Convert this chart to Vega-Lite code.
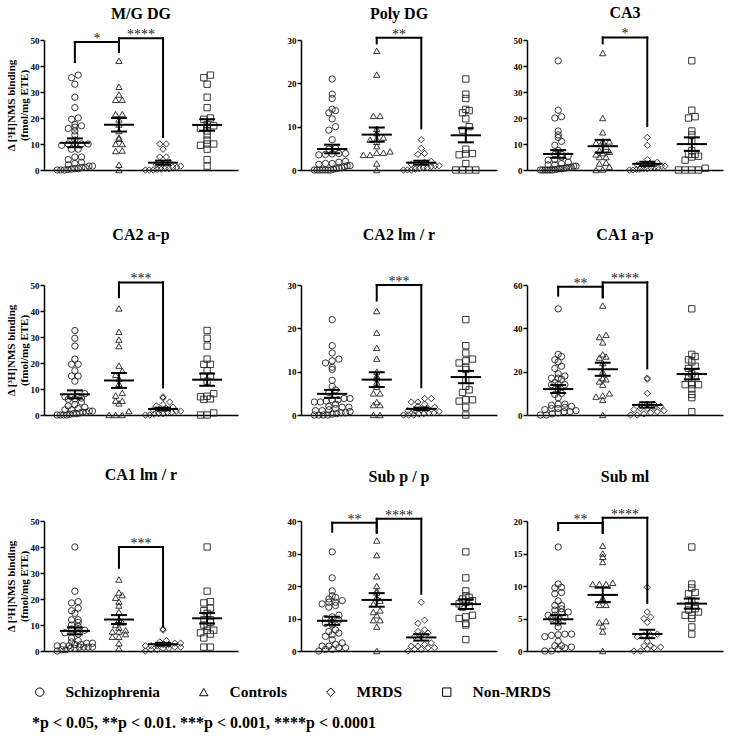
{
"$schema": "https://vega.github.io/schema/vega-lite/v6.json",
"background": "white",
"padding": 5,
"datasets": {
"pts": [
{"r":1,"g":"N","s":"S","v":36.5},{"r":1,"g":"N","s":"S","v":35.5},{"r":1,"g":"N","s":"S","v":33},{"r":1,"g":"N","s":"S","v":28},{"r":1,"g":"N","s":"S","v":24},{"r":1,"g":"N","s":"S","v":20},{"r":1,"g":"N","s":"S","v":19.5},{"r":1,"g":"N","s":"S","v":17.5},{"r":1,"g":"N","s":"S","v":17},{"r":1,"g":"N","s":"S","v":16.5},{"r":1,"g":"N","s":"S","v":16},{"r":1,"g":"N","s":"S","v":15},{"r":1,"g":"N","s":"S","v":13.5},{"r":1,"g":"N","s":"S","v":11.5},{"r":1,"g":"N","s":"S","v":10},{"r":1,"g":"N","s":"S","v":10},{"r":1,"g":"N","s":"S","v":9.5},{"r":1,"g":"N","s":"S","v":8},{"r":1,"g":"N","s":"S","v":4},{"r":1,"g":"N","s":"S","v":1.5},
{"r":1,"g":"M","s":"S","v":10},{"r":1,"g":"M","s":"S","v":10},{"r":1,"g":"M","s":"S","v":8},{"r":1,"g":"M","s":"S","v":5},{"r":1,"g":"M","s":"S","v":5},{"r":1,"g":"M","s":"S","v":3},{"r":1,"g":"M","s":"S","v":2.5},{"r":1,"g":"M","s":"S","v":2},{"r":1,"g":"M","s":"S","v":1.5},{"r":1,"g":"M","s":"S","v":1},{"r":1,"g":"M","s":"S","v":1},{"r":1,"g":"M","s":"S","v":0.5},{"r":1,"g":"M","s":"S","v":0.5},{"r":1,"g":"M","s":"S","v":0.3},{"r":1,"g":"M","s":"S","v":0.2},{"r":1,"g":"M","s":"S","v":0},{"r":1,"g":"M","s":"S","v":0},{"r":1,"g":"M","s":"S","v":0},
{"r":1,"g":"C","v":42},{"r":1,"g":"C","v":32},{"r":1,"g":"C","v":29},{"r":1,"g":"C","v":27},{"r":1,"g":"C","v":27},{"r":1,"g":"C","v":21.5},{"r":1,"g":"C","v":21.5},{"r":1,"g":"C","v":19.5},{"r":1,"g":"C","v":17.5},{"r":1,"g":"C","v":15},{"r":1,"g":"C","v":12.5},{"r":1,"g":"C","v":12},{"r":1,"g":"C","v":10},{"r":1,"g":"C","v":10},{"r":1,"g":"C","v":7.5},{"r":1,"g":"C","v":7.3},{"r":1,"g":"C","v":2},{"r":1,"g":"C","v":0},
{"r":2,"g":"N","s":"S","v":21},{"r":2,"g":"N","s":"S","v":17.5},{"r":2,"g":"N","s":"S","v":16.5},{"r":2,"g":"N","s":"S","v":14},{"r":2,"g":"N","s":"S","v":13.7},{"r":2,"g":"N","s":"S","v":13.2},{"r":2,"g":"N","s":"S","v":11.8},{"r":2,"g":"N","s":"S","v":10},{"r":2,"g":"N","s":"S","v":9.2},{"r":2,"g":"N","s":"S","v":4.8},{"r":2,"g":"N","s":"S","v":3.7},{"r":2,"g":"N","s":"S","v":3.5},{"r":2,"g":"N","s":"S","v":3.8},{"r":2,"g":"N","s":"S","v":1.5},{"r":2,"g":"N","s":"S","v":0},{"r":2,"g":"N","s":"S","v":0},{"r":2,"g":"N","s":"S","v":0},{"r":2,"g":"N","s":"S","v":0},
{"r":2,"g":"M","s":"S","v":7},{"r":2,"g":"M","s":"S","v":5},{"r":2,"g":"M","s":"S","v":3.8},{"r":2,"g":"M","s":"S","v":3.6},{"r":2,"g":"M","s":"S","v":2},{"r":2,"g":"M","s":"S","v":1.8},{"r":2,"g":"M","s":"S","v":1.5},{"r":2,"g":"M","s":"S","v":1.3},{"r":2,"g":"M","s":"S","v":1},{"r":2,"g":"M","s":"S","v":1},{"r":2,"g":"M","s":"S","v":0.8},{"r":2,"g":"M","s":"S","v":0.5},{"r":2,"g":"M","s":"S","v":0.5},{"r":2,"g":"M","s":"S","v":0.3},{"r":2,"g":"M","s":"S","v":0.2},{"r":2,"g":"M","s":"S","v":0},{"r":2,"g":"M","s":"S","v":0},{"r":2,"g":"M","s":"S","v":0},
{"r":2,"g":"C","v":27.5},{"r":2,"g":"C","v":22},{"r":2,"g":"C","v":12.5},{"r":2,"g":"C","v":12.5},{"r":2,"g":"C","v":9.5},{"r":2,"g":"C","v":8.5},{"r":2,"g":"C","v":7.5},{"r":2,"g":"C","v":7.2},{"r":2,"g":"C","v":7},{"r":2,"g":"C","v":6.5},{"r":2,"g":"C","v":5.5},{"r":2,"g":"C","v":4},{"r":2,"g":"C","v":4},{"r":2,"g":"C","v":4.3},{"r":2,"g":"C","v":3.5},{"r":2,"g":"C","v":3.5},{"r":2,"g":"C","v":1.5},{"r":2,"g":"C","v":0},
{"r":3,"g":"N","s":"S","v":42},{"r":3,"g":"N","s":"S","v":23},{"r":3,"g":"N","s":"S","v":20.5},{"r":3,"g":"N","s":"S","v":20},{"r":3,"g":"N","s":"S","v":15},{"r":3,"g":"N","s":"S","v":13.5},{"r":3,"g":"N","s":"S","v":11},{"r":3,"g":"N","s":"S","v":7.5},{"r":3,"g":"N","s":"S","v":6},{"r":3,"g":"N","s":"S","v":6},{"r":3,"g":"N","s":"S","v":5.3},{"r":3,"g":"N","s":"S","v":5},{"r":3,"g":"N","s":"S","v":3.8},{"r":3,"g":"N","s":"S","v":0.7},{"r":3,"g":"N","s":"S","v":0},{"r":3,"g":"N","s":"S","v":0},{"r":3,"g":"N","s":"S","v":0},{"r":3,"g":"N","s":"S","v":0},
{"r":3,"g":"M","s":"S","v":12.5},{"r":3,"g":"M","s":"S","v":9.5},{"r":3,"g":"M","s":"S","v":4},{"r":3,"g":"M","s":"S","v":3},{"r":3,"g":"M","s":"S","v":2.5},{"r":3,"g":"M","s":"S","v":2},{"r":3,"g":"M","s":"S","v":2},{"r":3,"g":"M","s":"S","v":1.5},{"r":3,"g":"M","s":"S","v":1.5},{"r":3,"g":"M","s":"S","v":1},{"r":3,"g":"M","s":"S","v":1},{"r":3,"g":"M","s":"S","v":0.8},{"r":3,"g":"M","s":"S","v":0.5},{"r":3,"g":"M","s":"S","v":0.5},{"r":3,"g":"M","s":"S","v":0.3},{"r":3,"g":"M","s":"S","v":0.2},{"r":3,"g":"M","s":"S","v":0},{"r":3,"g":"M","s":"S","v":0},
{"r":3,"g":"C","v":45},{"r":3,"g":"C","v":20},{"r":3,"g":"C","v":14.5},{"r":3,"g":"C","v":11},{"r":3,"g":"C","v":11},{"r":3,"g":"C","v":10.5},{"r":3,"g":"C","v":9},{"r":3,"g":"C","v":7.5},{"r":3,"g":"C","v":7},{"r":3,"g":"C","v":6.5},{"r":3,"g":"C","v":6},{"r":3,"g":"C","v":5},{"r":3,"g":"C","v":5},{"r":3,"g":"C","v":2.8},{"r":3,"g":"C","v":2.5},{"r":3,"g":"C","v":1.3},{"r":3,"g":"C","v":0.2},{"r":3,"g":"C","v":0},
{"r":4,"g":"N","s":"S","v":32.5},{"r":4,"g":"N","s":"S","v":29.5},{"r":4,"g":"N","s":"S","v":26.5},{"r":4,"g":"N","s":"S","v":21.5},{"r":4,"g":"N","s":"S","v":19.5},{"r":4,"g":"N","s":"S","v":19.5},{"r":4,"g":"N","s":"S","v":17},{"r":4,"g":"N","s":"S","v":15},{"r":4,"g":"N","s":"S","v":15},{"r":4,"g":"N","s":"S","v":13},{"r":4,"g":"N","s":"S","v":8.2},{"r":4,"g":"N","s":"S","v":7.2},{"r":4,"g":"N","s":"S","v":7},{"r":4,"g":"N","s":"S","v":6.2},{"r":4,"g":"N","s":"S","v":6},{"r":4,"g":"N","s":"S","v":0.8},{"r":4,"g":"N","s":"S","v":0},{"r":4,"g":"N","s":"S","v":0},
{"r":4,"g":"M","s":"S","v":7},{"r":4,"g":"M","s":"S","v":6.5},{"r":4,"g":"M","s":"S","v":5},{"r":4,"g":"M","s":"S","v":4},{"r":4,"g":"M","s":"S","v":3.5},{"r":4,"g":"M","s":"S","v":3},{"r":4,"g":"M","s":"S","v":2.5},{"r":4,"g":"M","s":"S","v":2},{"r":4,"g":"M","s":"S","v":2},{"r":4,"g":"M","s":"S","v":1.5},{"r":4,"g":"M","s":"S","v":1.5},{"r":4,"g":"M","s":"S","v":1},{"r":4,"g":"M","s":"S","v":1},{"r":4,"g":"M","s":"S","v":0.5},{"r":4,"g":"M","s":"S","v":0.5},{"r":4,"g":"M","s":"S","v":0.3},{"r":4,"g":"M","s":"S","v":0},{"r":4,"g":"M","s":"S","v":0},
{"r":4,"g":"C","v":41},{"r":4,"g":"C","v":32},{"r":4,"g":"C","v":29},{"r":4,"g":"C","v":26.5},{"r":4,"g":"C","v":19},{"r":4,"g":"C","v":17},{"r":4,"g":"C","v":15.5},{"r":4,"g":"C","v":14},{"r":4,"g":"C","v":12},{"r":4,"g":"C","v":8.5},{"r":4,"g":"C","v":7.5},{"r":4,"g":"C","v":5.5},{"r":4,"g":"C","v":5.5},{"r":4,"g":"C","v":4.5},{"r":4,"g":"C","v":1.5},{"r":4,"g":"C","v":0},{"r":4,"g":"C","v":0},{"r":4,"g":"C","v":0},
{"r":5,"g":"N","s":"S","v":22},{"r":5,"g":"N","s":"S","v":16},{"r":5,"g":"N","s":"S","v":14.3},{"r":5,"g":"N","s":"S","v":12.9},{"r":5,"g":"N","s":"S","v":12.5},{"r":5,"g":"N","s":"S","v":12},{"r":5,"g":"N","s":"S","v":11},{"r":5,"g":"N","s":"S","v":10.5},{"r":5,"g":"N","s":"S","v":8},{"r":5,"g":"N","s":"S","v":6.6},{"r":5,"g":"N","s":"S","v":5.8},{"r":5,"g":"N","s":"S","v":5.2},{"r":5,"g":"N","s":"S","v":3.5},{"r":5,"g":"N","s":"S","v":3.5},{"r":5,"g":"N","s":"S","v":3.2},{"r":5,"g":"N","s":"S","v":1.8},{"r":5,"g":"N","s":"S","v":0},
{"r":5,"g":"M","s":"S","v":3.8},{"r":5,"g":"M","s":"S","v":3.8},{"r":5,"g":"M","s":"S","v":3},{"r":5,"g":"M","s":"S","v":3},{"r":5,"g":"M","s":"S","v":2.5},{"r":5,"g":"M","s":"S","v":2},{"r":5,"g":"M","s":"S","v":1.8},{"r":5,"g":"M","s":"S","v":1.5},{"r":5,"g":"M","s":"S","v":1.2},{"r":5,"g":"M","s":"S","v":1},{"r":5,"g":"M","s":"S","v":1},{"r":5,"g":"M","s":"S","v":0.8},{"r":5,"g":"M","s":"S","v":0.5},{"r":5,"g":"M","s":"S","v":0.5},{"r":5,"g":"M","s":"S","v":0.3},{"r":5,"g":"M","s":"S","v":0.2},{"r":5,"g":"M","s":"S","v":0},{"r":5,"g":"M","s":"S","v":0},{"r":5,"g":"M","s":"S","v":0},
{"r":5,"g":"C","v":24},{"r":5,"g":"C","v":19},{"r":5,"g":"C","v":15.5},{"r":5,"g":"C","v":13},{"r":5,"g":"C","v":10},{"r":5,"g":"C","v":9},{"r":5,"g":"C","v":8.5},{"r":5,"g":"C","v":7.5},{"r":5,"g":"C","v":6.5},{"r":5,"g":"C","v":5},{"r":5,"g":"C","v":5},{"r":5,"g":"C","v":3},{"r":5,"g":"C","v":2.3},{"r":5,"g":"C","v":2.3},{"r":5,"g":"C","v":0},{"r":5,"g":"C","v":0},
{"r":6,"g":"N","s":"S","v":49},{"r":6,"g":"N","s":"S","v":28},{"r":6,"g":"N","s":"S","v":27},{"r":6,"g":"N","s":"S","v":25.5},{"r":6,"g":"N","s":"S","v":24.5},{"r":6,"g":"N","s":"S","v":22.5},{"r":6,"g":"N","s":"S","v":21.5},{"r":6,"g":"N","s":"S","v":19},{"r":6,"g":"N","s":"S","v":18},{"r":6,"g":"N","s":"S","v":17},{"r":6,"g":"N","s":"S","v":15},{"r":6,"g":"N","s":"S","v":14},{"r":6,"g":"N","s":"S","v":14},{"r":6,"g":"N","s":"S","v":14},{"r":6,"g":"N","s":"S","v":12},{"r":6,"g":"N","s":"S","v":9.5},{"r":6,"g":"N","s":"S","v":8},{"r":6,"g":"N","s":"S","v":1.5},
{"r":6,"g":"M","s":"S","v":17},{"r":6,"g":"M","s":"S","v":16.5},{"r":6,"g":"M","s":"S","v":10},{"r":6,"g":"M","s":"S","v":5},{"r":6,"g":"M","s":"S","v":5},{"r":6,"g":"M","s":"S","v":4.5},{"r":6,"g":"M","s":"S","v":4},{"r":6,"g":"M","s":"S","v":3.5},{"r":6,"g":"M","s":"S","v":3},{"r":6,"g":"M","s":"S","v":3},{"r":6,"g":"M","s":"S","v":2.5},{"r":6,"g":"M","s":"S","v":2},{"r":6,"g":"M","s":"S","v":1.5},{"r":6,"g":"M","s":"S","v":1},{"r":6,"g":"M","s":"S","v":0.5},{"r":6,"g":"M","s":"S","v":0},{"r":6,"g":"M","s":"S","v":0},
{"r":6,"g":"C","v":50.5},{"r":6,"g":"C","v":37},{"r":6,"g":"C","v":36},{"r":6,"g":"C","v":33.5},{"r":6,"g":"C","v":28},{"r":6,"g":"C","v":27},{"r":6,"g":"C","v":26.5},{"r":6,"g":"C","v":24},{"r":6,"g":"C","v":20},{"r":6,"g":"C","v":17},{"r":6,"g":"C","v":16.5},{"r":6,"g":"C","v":15.5},{"r":6,"g":"C","v":14},{"r":6,"g":"C","v":10},{"r":6,"g":"C","v":9},{"r":6,"g":"C","v":8.5},{"r":6,"g":"C","v":7},{"r":6,"g":"C","v":0},
{"r":7,"g":"N","s":"S","v":40},{"r":7,"g":"N","s":"S","v":23},{"r":7,"g":"N","s":"S","v":19},{"r":7,"g":"N","s":"S","v":18.5},{"r":7,"g":"N","s":"S","v":16.5},{"r":7,"g":"N","s":"S","v":15.5},{"r":7,"g":"N","s":"S","v":14.5},{"r":7,"g":"N","s":"S","v":12},{"r":7,"g":"N","s":"S","v":12},{"r":7,"g":"N","s":"S","v":11},{"r":7,"g":"N","s":"S","v":10},{"r":7,"g":"N","s":"S","v":9.5},{"r":7,"g":"N","s":"S","v":8},{"r":7,"g":"N","s":"S","v":8},{"r":7,"g":"N","s":"S","v":7},{"r":7,"g":"N","s":"S","v":6.5},{"r":7,"g":"N","s":"S","v":5},{"r":7,"g":"N","s":"S","v":1.5},{"r":7,"g":"N","s":"S","v":1.5},
{"r":7,"g":"M","s":"S","v":8.5},{"r":7,"g":"M","s":"S","v":8},{"r":7,"g":"M","s":"S","v":4},{"r":7,"g":"M","s":"S","v":3.5},{"r":7,"g":"M","s":"S","v":3},{"r":7,"g":"M","s":"S","v":3},{"r":7,"g":"M","s":"S","v":2.5},{"r":7,"g":"M","s":"S","v":2.5},{"r":7,"g":"M","s":"S","v":2},{"r":7,"g":"M","s":"S","v":2},{"r":7,"g":"M","s":"S","v":2},{"r":7,"g":"M","s":"S","v":1.5},{"r":7,"g":"M","s":"S","v":1.5},{"r":7,"g":"M","s":"S","v":1},{"r":7,"g":"M","s":"S","v":1},{"r":7,"g":"M","s":"S","v":0.5},{"r":7,"g":"M","s":"S","v":0.5},{"r":7,"g":"M","s":"S","v":0},
{"r":7,"g":"C","v":27.5},{"r":7,"g":"C","v":22.5},{"r":7,"g":"C","v":21.5},{"r":7,"g":"C","v":20.5},{"r":7,"g":"C","v":19},{"r":7,"g":"C","v":17.5},{"r":7,"g":"C","v":15},{"r":7,"g":"C","v":12},{"r":7,"g":"C","v":11},{"r":7,"g":"C","v":10},{"r":7,"g":"C","v":9},{"r":7,"g":"C","v":8},{"r":7,"g":"C","v":7.5},{"r":7,"g":"C","v":7.5},{"r":7,"g":"C","v":6.5},{"r":7,"g":"C","v":5.5},{"r":7,"g":"C","v":5.5},{"r":7,"g":"C","v":3},{"r":7,"g":"C","v":1},
{"r":8,"g":"N","s":"S","v":30.5},{"r":8,"g":"N","s":"S","v":22.5},{"r":8,"g":"N","s":"S","v":18.5},{"r":8,"g":"N","s":"S","v":17},{"r":8,"g":"N","s":"S","v":16.5},{"r":8,"g":"N","s":"S","v":16},{"r":8,"g":"N","s":"S","v":15.5},{"r":8,"g":"N","s":"S","v":15},{"r":8,"g":"N","s":"S","v":14.5},{"r":8,"g":"N","s":"S","v":14},{"r":8,"g":"N","s":"S","v":13.5},{"r":8,"g":"N","s":"S","v":11},{"r":8,"g":"N","s":"S","v":10.5},{"r":8,"g":"N","s":"S","v":10},{"r":8,"g":"N","s":"S","v":8.5},{"r":8,"g":"N","s":"S","v":8},{"r":8,"g":"N","s":"S","v":3.5},
{"r":8,"g":"M","s":"S","v":15},{"r":8,"g":"M","s":"S","v":9.5},{"r":8,"g":"M","s":"S","v":8.5},{"r":8,"g":"M","s":"S","v":6.5},{"r":8,"g":"M","s":"S","v":6},{"r":8,"g":"M","s":"S","v":5.5},{"r":8,"g":"M","s":"S","v":5},{"r":8,"g":"M","s":"S","v":4.5},{"r":8,"g":"M","s":"S","v":2.5},{"r":8,"g":"M","s":"S","v":2},{"r":8,"g":"M","s":"S","v":1.5},{"r":8,"g":"M","s":"S","v":1.5},{"r":8,"g":"M","s":"S","v":1},{"r":8,"g":"M","s":"S","v":1},{"r":8,"g":"M","s":"S","v":0.5},{"r":8,"g":"M","s":"S","v":0.5},{"r":8,"g":"M","s":"S","v":0},
{"r":8,"g":"C","v":34},{"r":8,"g":"C","v":29.5},{"r":8,"g":"C","v":23},{"r":8,"g":"C","v":20},{"r":8,"g":"C","v":18.5},{"r":8,"g":"C","v":18},{"r":8,"g":"C","v":16.5},{"r":8,"g":"C","v":15.5},{"r":8,"g":"C","v":14.5},{"r":8,"g":"C","v":12.5},{"r":8,"g":"C","v":12},{"r":8,"g":"C","v":11},{"r":8,"g":"C","v":9.5},{"r":8,"g":"C","v":9.5},{"r":8,"g":"C","v":7.5},{"r":8,"g":"C","v":0},
{"r":9,"g":"N","s":"S","v":16},{"r":9,"g":"N","s":"S","v":10.3},{"r":9,"g":"N","s":"S","v":9.7},{"r":9,"g":"N","s":"S","v":9},{"r":9,"g":"N","s":"S","v":8.8},{"r":9,"g":"N","s":"S","v":7.7},{"r":9,"g":"N","s":"S","v":7},{"r":9,"g":"N","s":"S","v":7},{"r":9,"g":"N","s":"S","v":6.5},{"r":9,"g":"N","s":"S","v":6.3},{"r":9,"g":"N","s":"S","v":6},{"r":9,"g":"N","s":"S","v":5.5},{"r":9,"g":"N","s":"S","v":5.5},{"r":9,"g":"N","s":"S","v":5},{"r":9,"g":"N","s":"S","v":3.7},{"r":9,"g":"N","s":"S","v":2.6},
{"r":9,"g":"M","s":"S","v":9.8},{"r":9,"g":"M","s":"S","v":6},{"r":9,"g":"M","s":"S","v":5.2},{"r":9,"g":"M","s":"S","v":5},{"r":9,"g":"M","s":"S","v":4.4},{"r":9,"g":"M","s":"S","v":2.6},{"r":9,"g":"M","s":"S","v":2.5},{"r":9,"g":"M","s":"S","v":2.4},{"r":9,"g":"M","s":"S","v":2.2},{"r":9,"g":"M","s":"S","v":1.5},{"r":9,"g":"M","s":"S","v":0.8},{"r":9,"g":"M","s":"S","v":0.8},{"r":9,"g":"M","s":"S","v":0.6},{"r":9,"g":"M","s":"S","v":0.5},{"r":9,"g":"M","s":"S","v":0.3},{"r":9,"g":"M","s":"S","v":0},{"r":9,"g":"M","s":"S","v":0},
{"r":9,"g":"C","v":16.2},{"r":9,"g":"C","v":15},{"r":9,"g":"C","v":14.5},{"r":9,"g":"C","v":13.7},{"r":9,"g":"C","v":10.5},{"r":9,"g":"C","v":10.3},{"r":9,"g":"C","v":10.3},{"r":9,"g":"C","v":10.3},{"r":9,"g":"C","v":8.1},{"r":9,"g":"C","v":7.8},{"r":9,"g":"C","v":7.1},{"r":9,"g":"C","v":7.1},{"r":9,"g":"C","v":4.6},{"r":9,"g":"C","v":4.4},{"r":9,"g":"C","v":3.8},{"r":9,"g":"C","v":3},{"r":9,"g":"C","v":0}
],
"br": [
{"r":1,"a":"S","b":"C","top":49.2,"yl":41.5,"yr":45.4,"lab":"*"},
{"r":1,"a":"C","b":"M","top":50.7,"yl":45.4,"yr":12.7,"lab":"****"},
{"r":2,"a":"C","b":"M","top":30.5,"yl":29.2,"yr":9.6,"lab":"**"},
{"r":3,"a":"C","b":"M","top":51,"yl":48.7,"yr":16.9,"lab":"*"},
{"r":4,"a":"C","b":"M","top":51,"yl":45.3,"yr":10.6,"lab":"***"},
{"r":5,"a":"C","b":"M","top":30,"yl":26.4,"yr":6.4,"lab":"***"},
{"r":6,"a":"S","b":"C","top":59.2,"yl":55.1,"yr":54.3,"lab":"**"},
{"r":6,"a":"C","b":"M","top":61.2,"yl":54.3,"yr":21.5,"lab":"****"},
{"r":7,"a":"C","b":"M","top":40,"yl":32,"yr":9.6,"lab":"***"},
{"r":8,"a":"S","b":"C","top":39.5,"yl":36.7,"yr":36.4,"lab":"**"},
{"r":8,"a":"C","b":"M","top":40.7,"yl":36.4,"yr":17.6,"lab":"****"},
{"r":9,"a":"S","b":"C","top":19.7,"yl":18.6,"yr":18.2,"lab":"**"},
{"r":9,"a":"C","b":"M","top":20.5,"yl":18.2,"yr":7.4,"lab":"****"}
]
},
"config": {
"font": "Liberation Serif",
"view": {"stroke": null},
"axis": {"grid": false, "domainColor": "#000", "domainWidth": 1.5, "tickColor": "#000", "tickWidth": 1.5, "tickSize": 4, "labelFont": "Liberation Serif", "labelFontWeight": "bold", "labelFontSize": 9, "labelColor": "#000", "labelPadding": 1, "labelOverlap": false, "labelBound": false, "titleFont": "Liberation Serif", "titleFontWeight": "bold", "titleFontSize": 11, "titleColor": "#000", "titlePadding": 1, "titleLineHeight": 13},
"title": {"font": "Liberation Serif", "fontSize": 16, "fontWeight": "bold", "color": "#000", "anchor": "middle"},
"legend": {"labelFont": "Liberation Serif", "labelFontWeight": "bold", "labelFontSize": 15.5, "labelColor": "#000", "titleFont": "Liberation Serif", "titleFontWeight": "bold", "titleFontSize": 16, "titleColor": "#000", "titleLimit": 1000, "labelLimit": 300, "symbolStrokeColor": "#000", "symbolStrokeWidth": 1, "symbolSize": 70}
},
"resolve": {"scale": {"shape": "shared"}, "legend": {"shape": "shared"}},
"spacing": 52,
"vconcat": [
{"hconcat": [
{"width": 194, "height": 130, "title": {"text": "M/G DG", "offset": 6}, "layer": [
{"data": {"name": "pts"}, "transform": [{"filter": "datum.r==1"}, {"fold": ["g","s"], "as": ["k","c"]}, {"filter": "isValid(datum.c)"}, {"calculate": "indexof(['S','C','M','N'],datum.c)+1", "as": "gi"}, {"calculate": "['Schizophrenia','Controls','MRDS','Non-MRDS'][datum.gi-1]", "as": "grp"}, {"joinaggregate": [{"op": "max", "field": "v", "as": "vmax"}]}, {"calculate": "floor(datum.v*24/datum.vmax)", "as": "bin"}, {"joinaggregate": [{"op": "count", "as": "n"}], "groupby": ["gi","bin"]}, {"window": [{"op": "row_number", "as": "j"}], "sort": [{"field": "v"}], "groupby": ["gi","bin"]}, {"calculate": "datum.gi+(datum.j-1-(datum.n-1)/2)*min(0.15,0.8/max(datum.n-1,1))", "as": "xp"}],
 "mark": {"type": "point", "filled": false, "size": 40, "strokeWidth": 0.9, "color": "#222", "opacity": 1},
 "encoding": {"x": {"field": "xp", "type": "quantitative", "scale": {"domain": [0.3,4.7], "nice": false}, "axis": {"labels": false, "ticks": false, "title": null}},
  "y": {"field": "v", "type": "quantitative", "scale": {"domain": [0,50], "nice": false}, "axis": {"values": [0,10,20,30,40,50], "tickCount": 12, "title": ["Δ [³H]NMS binding","(fmol/mg ETE)"]}},
  "shape": {"field": "grp", "type": "nominal", "scale": {"domain": ["Schizophrenia","Controls","MRDS","Non-MRDS"], "range": ["circle","triangle-up","diamond","square"]}, "legend": {"title": "*p < 0.05, **p < 0.01. ***p < 0.001, ****p < 0.0001", "orient": "none", "legendX": -12, "legendY": 644, "direction": "horizontal", "titleOrient": "bottom", "titleAnchor": "start", "titlePadding": 14, "columnPadding": 36, "labelOffset": 18, "padding": 0}}}},
{"data": {"name": "pts"}, "transform": [{"filter": "datum.r==1"}, {"fold": ["g","s"], "as": ["k","c"]}, {"filter": "isValid(datum.c)"}, {"calculate": "indexof(['S','C','M','N'],datum.c)+1", "as": "gi"}, {"aggregate": [{"op": "mean", "field": "v", "as": "m"}, {"op": "stderr", "field": "v", "as": "se"}], "groupby": ["gi"]}, {"calculate": "datum.m-datum.se", "as": "lo"}, {"calculate": "datum.m+datum.se", "as": "hi"}, {"calculate": "datum.gi-0.34", "as": "xl"}, {"calculate": "datum.gi+0.34", "as": "xr"}, {"calculate": "datum.gi-0.18", "as": "cl"}, {"calculate": "datum.gi+0.18", "as": "cr"}],
 "layer": [
 {"mark": {"type": "rule", "strokeWidth": 2, "color": "#000"}, "encoding": {"x": {"field": "xl", "type": "quantitative"}, "x2": {"field": "xr"}, "y": {"field": "m", "type": "quantitative"}}},
 {"mark": {"type": "rule", "strokeWidth": 2, "color": "#000"}, "encoding": {"x": {"field": "gi", "type": "quantitative"}, "y": {"field": "lo", "type": "quantitative"}, "y2": {"field": "hi"}}},
 {"mark": {"type": "rule", "strokeWidth": 2, "color": "#000"}, "encoding": {"x": {"field": "cl", "type": "quantitative"}, "x2": {"field": "cr"}, "y": {"field": "hi", "type": "quantitative"}}},
 {"mark": {"type": "rule", "strokeWidth": 2, "color": "#000"}, "encoding": {"x": {"field": "cl", "type": "quantitative"}, "x2": {"field": "cr"}, "y": {"field": "lo", "type": "quantitative"}}}
 ]},
{"data": {"name": "br"}, "transform": [{"filter": "datum.r==1"}, {"calculate": "indexof(['S','C','M','N'],datum.a)+1", "as": "xa"}, {"calculate": "indexof(['S','C','M','N'],datum.b)+1", "as": "xb"}, {"calculate": "(datum.xa+datum.xb)/2", "as": "xm"}],
 "layer": [
 {"mark": {"type": "rule", "strokeWidth": 2, "color": "#000", "strokeCap": "square"}, "encoding": {"x": {"field": "xa", "type": "quantitative"}, "x2": {"field": "xb"}, "y": {"field": "top", "type": "quantitative"}}},
 {"mark": {"type": "rule", "strokeWidth": 2, "color": "#000", "strokeCap": "square"}, "encoding": {"x": {"field": "xa", "type": "quantitative"}, "y": {"field": "yl", "type": "quantitative"}, "y2": {"field": "top"}}},
 {"mark": {"type": "rule", "strokeWidth": 2, "color": "#000", "strokeCap": "square"}, "encoding": {"x": {"field": "xb", "type": "quantitative"}, "y": {"field": "yr", "type": "quantitative"}, "y2": {"field": "top"}}},
 {"mark": {"type": "text", "fontSize": 14, "color": "#222", "baseline": "alphabetic", "dy": 1}, "encoding": {"x": {"field": "xm", "type": "quantitative"}, "y": {"field": "top", "type": "quantitative"}, "text": {"field": "lab"}}}
 ]}
]},
{"hconcat": [
{"width": 196, "height": 130, "title": {"text": "Poly DG", "offset": 6}, "layer": [
{"data": {"name": "pts"}, "transform": [{"filter": "datum.r==2"}, {"fold": ["g","s"], "as": ["k","c"]}, {"filter": "isValid(datum.c)"}, {"calculate": "indexof(['S','C','M','N'],datum.c)+1", "as": "gi"}, {"calculate": "['Schizophrenia','Controls','MRDS','Non-MRDS'][datum.gi-1]", "as": "grp"}, {"joinaggregate": [{"op": "max", "field": "v", "as": "vmax"}]}, {"calculate": "floor(datum.v*24/datum.vmax)", "as": "bin"}, {"joinaggregate": [{"op": "count", "as": "n"}], "groupby": ["gi","bin"]}, {"window": [{"op": "row_number", "as": "j"}], "sort": [{"field": "v"}], "groupby": ["gi","bin"]}, {"calculate": "datum.gi+(datum.j-1-(datum.n-1)/2)*min(0.15,0.8/max(datum.n-1,1))", "as": "xp"}],
 "mark": {"type": "point", "filled": false, "size": 40, "strokeWidth": 0.9, "color": "#222", "opacity": 1},
 "encoding": {"x": {"field": "xp", "type": "quantitative", "scale": {"domain": [0.3,4.7], "nice": false}, "axis": {"labels": false, "ticks": false, "title": null}},
  "y": {"field": "v", "type": "quantitative", "scale": {"domain": [0,30], "nice": false}, "axis": {"values": [0,10,20,30], "tickCount": 12, "title": null}},
  "shape": {"field": "grp", "type": "nominal", "scale": {"domain": ["Schizophrenia","Controls","MRDS","Non-MRDS"], "range": ["circle","triangle-up","diamond","square"]}, "legend": {"title": "*p < 0.05, **p < 0.01. ***p < 0.001, ****p < 0.0001", "orient": "none", "legendX": -12, "legendY": 644, "direction": "horizontal", "titleOrient": "bottom", "titleAnchor": "start", "titlePadding": 14, "columnPadding": 36, "labelOffset": 18, "padding": 0}}}},
{"data": {"name": "pts"}, "transform": [{"filter": "datum.r==2"}, {"fold": ["g","s"], "as": ["k","c"]}, {"filter": "isValid(datum.c)"}, {"calculate": "indexof(['S','C','M','N'],datum.c)+1", "as": "gi"}, {"aggregate": [{"op": "mean", "field": "v", "as": "m"}, {"op": "stderr", "field": "v", "as": "se"}], "groupby": ["gi"]}, {"calculate": "datum.m-datum.se", "as": "lo"}, {"calculate": "datum.m+datum.se", "as": "hi"}, {"calculate": "datum.gi-0.34", "as": "xl"}, {"calculate": "datum.gi+0.34", "as": "xr"}, {"calculate": "datum.gi-0.18", "as": "cl"}, {"calculate": "datum.gi+0.18", "as": "cr"}],
 "layer": [
 {"mark": {"type": "rule", "strokeWidth": 2, "color": "#000"}, "encoding": {"x": {"field": "xl", "type": "quantitative"}, "x2": {"field": "xr"}, "y": {"field": "m", "type": "quantitative"}}},
 {"mark": {"type": "rule", "strokeWidth": 2, "color": "#000"}, "encoding": {"x": {"field": "gi", "type": "quantitative"}, "y": {"field": "lo", "type": "quantitative"}, "y2": {"field": "hi"}}},
 {"mark": {"type": "rule", "strokeWidth": 2, "color": "#000"}, "encoding": {"x": {"field": "cl", "type": "quantitative"}, "x2": {"field": "cr"}, "y": {"field": "hi", "type": "quantitative"}}},
 {"mark": {"type": "rule", "strokeWidth": 2, "color": "#000"}, "encoding": {"x": {"field": "cl", "type": "quantitative"}, "x2": {"field": "cr"}, "y": {"field": "lo", "type": "quantitative"}}}
 ]},
{"data": {"name": "br"}, "transform": [{"filter": "datum.r==2"}, {"calculate": "indexof(['S','C','M','N'],datum.a)+1", "as": "xa"}, {"calculate": "indexof(['S','C','M','N'],datum.b)+1", "as": "xb"}, {"calculate": "(datum.xa+datum.xb)/2", "as": "xm"}],
 "layer": [
 {"mark": {"type": "rule", "strokeWidth": 2, "color": "#000", "strokeCap": "square"}, "encoding": {"x": {"field": "xa", "type": "quantitative"}, "x2": {"field": "xb"}, "y": {"field": "top", "type": "quantitative"}}},
 {"mark": {"type": "rule", "strokeWidth": 2, "color": "#000", "strokeCap": "square"}, "encoding": {"x": {"field": "xa", "type": "quantitative"}, "y": {"field": "yl", "type": "quantitative"}, "y2": {"field": "top"}}},
 {"mark": {"type": "rule", "strokeWidth": 2, "color": "#000", "strokeCap": "square"}, "encoding": {"x": {"field": "xb", "type": "quantitative"}, "y": {"field": "yr", "type": "quantitative"}, "y2": {"field": "top"}}},
 {"mark": {"type": "text", "fontSize": 14, "color": "#222", "baseline": "alphabetic", "dy": 1}, "encoding": {"x": {"field": "xm", "type": "quantitative"}, "y": {"field": "top", "type": "quantitative"}, "text": {"field": "lab"}}}
 ]}
]},
{"width": 196, "height": 130, "title": {"text": "CA3", "offset": 6}, "layer": [
{"data": {"name": "pts"}, "transform": [{"filter": "datum.r==3"}, {"fold": ["g","s"], "as": ["k","c"]}, {"filter": "isValid(datum.c)"}, {"calculate": "indexof(['S','C','M','N'],datum.c)+1", "as": "gi"}, {"calculate": "['Schizophrenia','Controls','MRDS','Non-MRDS'][datum.gi-1]", "as": "grp"}, {"joinaggregate": [{"op": "max", "field": "v", "as": "vmax"}]}, {"calculate": "floor(datum.v*24/datum.vmax)", "as": "bin"}, {"joinaggregate": [{"op": "count", "as": "n"}], "groupby": ["gi","bin"]}, {"window": [{"op": "row_number", "as": "j"}], "sort": [{"field": "v"}], "groupby": ["gi","bin"]}, {"calculate": "datum.gi+(datum.j-1-(datum.n-1)/2)*min(0.15,0.8/max(datum.n-1,1))", "as": "xp"}],
 "mark": {"type": "point", "filled": false, "size": 40, "strokeWidth": 0.9, "color": "#222", "opacity": 1},
 "encoding": {"x": {"field": "xp", "type": "quantitative", "scale": {"domain": [0.3,4.7], "nice": false}, "axis": {"labels": false, "ticks": false, "title": null}},
  "y": {"field": "v", "type": "quantitative", "scale": {"domain": [0,50], "nice": false}, "axis": {"values": [0,10,20,30,40,50], "tickCount": 12, "title": null}},
  "shape": {"field": "grp", "type": "nominal", "scale": {"domain": ["Schizophrenia","Controls","MRDS","Non-MRDS"], "range": ["circle","triangle-up","diamond","square"]}, "legend": {"title": "*p < 0.05, **p < 0.01. ***p < 0.001, ****p < 0.0001", "orient": "none", "legendX": -12, "legendY": 644, "direction": "horizontal", "titleOrient": "bottom", "titleAnchor": "start", "titlePadding": 14, "columnPadding": 36, "labelOffset": 18, "padding": 0}}}},
{"data": {"name": "pts"}, "transform": [{"filter": "datum.r==3"}, {"fold": ["g","s"], "as": ["k","c"]}, {"filter": "isValid(datum.c)"}, {"calculate": "indexof(['S','C','M','N'],datum.c)+1", "as": "gi"}, {"aggregate": [{"op": "mean", "field": "v", "as": "m"}, {"op": "stderr", "field": "v", "as": "se"}], "groupby": ["gi"]}, {"calculate": "datum.m-datum.se", "as": "lo"}, {"calculate": "datum.m+datum.se", "as": "hi"}, {"calculate": "datum.gi-0.34", "as": "xl"}, {"calculate": "datum.gi+0.34", "as": "xr"}, {"calculate": "datum.gi-0.18", "as": "cl"}, {"calculate": "datum.gi+0.18", "as": "cr"}],
 "layer": [
 {"mark": {"type": "rule", "strokeWidth": 2, "color": "#000"}, "encoding": {"x": {"field": "xl", "type": "quantitative"}, "x2": {"field": "xr"}, "y": {"field": "m", "type": "quantitative"}}},
 {"mark": {"type": "rule", "strokeWidth": 2, "color": "#000"}, "encoding": {"x": {"field": "gi", "type": "quantitative"}, "y": {"field": "lo", "type": "quantitative"}, "y2": {"field": "hi"}}},
 {"mark": {"type": "rule", "strokeWidth": 2, "color": "#000"}, "encoding": {"x": {"field": "cl", "type": "quantitative"}, "x2": {"field": "cr"}, "y": {"field": "hi", "type": "quantitative"}}},
 {"mark": {"type": "rule", "strokeWidth": 2, "color": "#000"}, "encoding": {"x": {"field": "cl", "type": "quantitative"}, "x2": {"field": "cr"}, "y": {"field": "lo", "type": "quantitative"}}}
 ]},
{"data": {"name": "br"}, "transform": [{"filter": "datum.r==3"}, {"calculate": "indexof(['S','C','M','N'],datum.a)+1", "as": "xa"}, {"calculate": "indexof(['S','C','M','N'],datum.b)+1", "as": "xb"}, {"calculate": "(datum.xa+datum.xb)/2", "as": "xm"}],
 "layer": [
 {"mark": {"type": "rule", "strokeWidth": 2, "color": "#000", "strokeCap": "square"}, "encoding": {"x": {"field": "xa", "type": "quantitative"}, "x2": {"field": "xb"}, "y": {"field": "top", "type": "quantitative"}}},
 {"mark": {"type": "rule", "strokeWidth": 2, "color": "#000", "strokeCap": "square"}, "encoding": {"x": {"field": "xa", "type": "quantitative"}, "y": {"field": "yl", "type": "quantitative"}, "y2": {"field": "top"}}},
 {"mark": {"type": "rule", "strokeWidth": 2, "color": "#000", "strokeCap": "square"}, "encoding": {"x": {"field": "xb", "type": "quantitative"}, "y": {"field": "yr", "type": "quantitative"}, "y2": {"field": "top"}}},
 {"mark": {"type": "text", "fontSize": 14, "color": "#222", "baseline": "alphabetic", "dy": 1}, "encoding": {"x": {"field": "xm", "type": "quantitative"}, "y": {"field": "top", "type": "quantitative"}, "text": {"field": "lab"}}}
 ]}
]}
], "spacing": 16}
], "spacing": 49},
{"spacing": 47, "vconcat": [
{"hconcat": [
{"width": 194, "height": 130, "title": {"text": "CA2 a-p", "offset": 29}, "layer": [
{"data": {"name": "pts"}, "transform": [{"filter": "datum.r==4"}, {"fold": ["g","s"], "as": ["k","c"]}, {"filter": "isValid(datum.c)"}, {"calculate": "indexof(['S','C','M','N'],datum.c)+1", "as": "gi"}, {"calculate": "['Schizophrenia','Controls','MRDS','Non-MRDS'][datum.gi-1]", "as": "grp"}, {"joinaggregate": [{"op": "max", "field": "v", "as": "vmax"}]}, {"calculate": "floor(datum.v*24/datum.vmax)", "as": "bin"}, {"joinaggregate": [{"op": "count", "as": "n"}], "groupby": ["gi","bin"]}, {"window": [{"op": "row_number", "as": "j"}], "sort": [{"field": "v"}], "groupby": ["gi","bin"]}, {"calculate": "datum.gi+(datum.j-1-(datum.n-1)/2)*min(0.15,0.8/max(datum.n-1,1))", "as": "xp"}],
 "mark": {"type": "point", "filled": false, "size": 40, "strokeWidth": 0.9, "color": "#222", "opacity": 1},
 "encoding": {"x": {"field": "xp", "type": "quantitative", "scale": {"domain": [0.3,4.7], "nice": false}, "axis": {"labels": false, "ticks": false, "title": null}},
  "y": {"field": "v", "type": "quantitative", "scale": {"domain": [0,50], "nice": false}, "axis": {"values": [0,10,20,30,40,50], "tickCount": 12, "title": ["Δ [³H]NMS binding","(fmol/mg ETE)"]}},
  "shape": {"field": "grp", "type": "nominal", "scale": {"domain": ["Schizophrenia","Controls","MRDS","Non-MRDS"], "range": ["circle","triangle-up","diamond","square"]}, "legend": {"title": "*p < 0.05, **p < 0.01. ***p < 0.001, ****p < 0.0001", "orient": "none", "legendX": -12, "legendY": 644, "direction": "horizontal", "titleOrient": "bottom", "titleAnchor": "start", "titlePadding": 14, "columnPadding": 36, "labelOffset": 18, "padding": 0}}}},
{"data": {"name": "pts"}, "transform": [{"filter": "datum.r==4"}, {"fold": ["g","s"], "as": ["k","c"]}, {"filter": "isValid(datum.c)"}, {"calculate": "indexof(['S','C','M','N'],datum.c)+1", "as": "gi"}, {"aggregate": [{"op": "mean", "field": "v", "as": "m"}, {"op": "stderr", "field": "v", "as": "se"}], "groupby": ["gi"]}, {"calculate": "datum.m-datum.se", "as": "lo"}, {"calculate": "datum.m+datum.se", "as": "hi"}, {"calculate": "datum.gi-0.34", "as": "xl"}, {"calculate": "datum.gi+0.34", "as": "xr"}, {"calculate": "datum.gi-0.18", "as": "cl"}, {"calculate": "datum.gi+0.18", "as": "cr"}],
 "layer": [
 {"mark": {"type": "rule", "strokeWidth": 2, "color": "#000"}, "encoding": {"x": {"field": "xl", "type": "quantitative"}, "x2": {"field": "xr"}, "y": {"field": "m", "type": "quantitative"}}},
 {"mark": {"type": "rule", "strokeWidth": 2, "color": "#000"}, "encoding": {"x": {"field": "gi", "type": "quantitative"}, "y": {"field": "lo", "type": "quantitative"}, "y2": {"field": "hi"}}},
 {"mark": {"type": "rule", "strokeWidth": 2, "color": "#000"}, "encoding": {"x": {"field": "cl", "type": "quantitative"}, "x2": {"field": "cr"}, "y": {"field": "hi", "type": "quantitative"}}},
 {"mark": {"type": "rule", "strokeWidth": 2, "color": "#000"}, "encoding": {"x": {"field": "cl", "type": "quantitative"}, "x2": {"field": "cr"}, "y": {"field": "lo", "type": "quantitative"}}}
 ]},
{"data": {"name": "br"}, "transform": [{"filter": "datum.r==4"}, {"calculate": "indexof(['S','C','M','N'],datum.a)+1", "as": "xa"}, {"calculate": "indexof(['S','C','M','N'],datum.b)+1", "as": "xb"}, {"calculate": "(datum.xa+datum.xb)/2", "as": "xm"}],
 "layer": [
 {"mark": {"type": "rule", "strokeWidth": 2, "color": "#000", "strokeCap": "square"}, "encoding": {"x": {"field": "xa", "type": "quantitative"}, "x2": {"field": "xb"}, "y": {"field": "top", "type": "quantitative"}}},
 {"mark": {"type": "rule", "strokeWidth": 2, "color": "#000", "strokeCap": "square"}, "encoding": {"x": {"field": "xa", "type": "quantitative"}, "y": {"field": "yl", "type": "quantitative"}, "y2": {"field": "top"}}},
 {"mark": {"type": "rule", "strokeWidth": 2, "color": "#000", "strokeCap": "square"}, "encoding": {"x": {"field": "xb", "type": "quantitative"}, "y": {"field": "yr", "type": "quantitative"}, "y2": {"field": "top"}}},
 {"mark": {"type": "text", "fontSize": 14, "color": "#222", "baseline": "alphabetic", "dy": 1}, "encoding": {"x": {"field": "xm", "type": "quantitative"}, "y": {"field": "top", "type": "quantitative"}, "text": {"field": "lab"}}}
 ]}
]},
{"hconcat": [
{"width": 196, "height": 130, "title": {"text": "CA2 lm / r", "offset": 32}, "layer": [
{"data": {"name": "pts"}, "transform": [{"filter": "datum.r==5"}, {"fold": ["g","s"], "as": ["k","c"]}, {"filter": "isValid(datum.c)"}, {"calculate": "indexof(['S','C','M','N'],datum.c)+1", "as": "gi"}, {"calculate": "['Schizophrenia','Controls','MRDS','Non-MRDS'][datum.gi-1]", "as": "grp"}, {"joinaggregate": [{"op": "max", "field": "v", "as": "vmax"}]}, {"calculate": "floor(datum.v*24/datum.vmax)", "as": "bin"}, {"joinaggregate": [{"op": "count", "as": "n"}], "groupby": ["gi","bin"]}, {"window": [{"op": "row_number", "as": "j"}], "sort": [{"field": "v"}], "groupby": ["gi","bin"]}, {"calculate": "datum.gi+(datum.j-1-(datum.n-1)/2)*min(0.15,0.8/max(datum.n-1,1))", "as": "xp"}],
 "mark": {"type": "point", "filled": false, "size": 40, "strokeWidth": 0.9, "color": "#222", "opacity": 1},
 "encoding": {"x": {"field": "xp", "type": "quantitative", "scale": {"domain": [0.3,4.7], "nice": false}, "axis": {"labels": false, "ticks": false, "title": null}},
  "y": {"field": "v", "type": "quantitative", "scale": {"domain": [0,30], "nice": false}, "axis": {"values": [0,10,20,30], "tickCount": 12, "title": null}},
  "shape": {"field": "grp", "type": "nominal", "scale": {"domain": ["Schizophrenia","Controls","MRDS","Non-MRDS"], "range": ["circle","triangle-up","diamond","square"]}, "legend": {"title": "*p < 0.05, **p < 0.01. ***p < 0.001, ****p < 0.0001", "orient": "none", "legendX": -12, "legendY": 644, "direction": "horizontal", "titleOrient": "bottom", "titleAnchor": "start", "titlePadding": 14, "columnPadding": 36, "labelOffset": 18, "padding": 0}}}},
{"data": {"name": "pts"}, "transform": [{"filter": "datum.r==5"}, {"fold": ["g","s"], "as": ["k","c"]}, {"filter": "isValid(datum.c)"}, {"calculate": "indexof(['S','C','M','N'],datum.c)+1", "as": "gi"}, {"aggregate": [{"op": "mean", "field": "v", "as": "m"}, {"op": "stderr", "field": "v", "as": "se"}], "groupby": ["gi"]}, {"calculate": "datum.m-datum.se", "as": "lo"}, {"calculate": "datum.m+datum.se", "as": "hi"}, {"calculate": "datum.gi-0.34", "as": "xl"}, {"calculate": "datum.gi+0.34", "as": "xr"}, {"calculate": "datum.gi-0.18", "as": "cl"}, {"calculate": "datum.gi+0.18", "as": "cr"}],
 "layer": [
 {"mark": {"type": "rule", "strokeWidth": 2, "color": "#000"}, "encoding": {"x": {"field": "xl", "type": "quantitative"}, "x2": {"field": "xr"}, "y": {"field": "m", "type": "quantitative"}}},
 {"mark": {"type": "rule", "strokeWidth": 2, "color": "#000"}, "encoding": {"x": {"field": "gi", "type": "quantitative"}, "y": {"field": "lo", "type": "quantitative"}, "y2": {"field": "hi"}}},
 {"mark": {"type": "rule", "strokeWidth": 2, "color": "#000"}, "encoding": {"x": {"field": "cl", "type": "quantitative"}, "x2": {"field": "cr"}, "y": {"field": "hi", "type": "quantitative"}}},
 {"mark": {"type": "rule", "strokeWidth": 2, "color": "#000"}, "encoding": {"x": {"field": "cl", "type": "quantitative"}, "x2": {"field": "cr"}, "y": {"field": "lo", "type": "quantitative"}}}
 ]},
{"data": {"name": "br"}, "transform": [{"filter": "datum.r==5"}, {"calculate": "indexof(['S','C','M','N'],datum.a)+1", "as": "xa"}, {"calculate": "indexof(['S','C','M','N'],datum.b)+1", "as": "xb"}, {"calculate": "(datum.xa+datum.xb)/2", "as": "xm"}],
 "layer": [
 {"mark": {"type": "rule", "strokeWidth": 2, "color": "#000", "strokeCap": "square"}, "encoding": {"x": {"field": "xa", "type": "quantitative"}, "x2": {"field": "xb"}, "y": {"field": "top", "type": "quantitative"}}},
 {"mark": {"type": "rule", "strokeWidth": 2, "color": "#000", "strokeCap": "square"}, "encoding": {"x": {"field": "xa", "type": "quantitative"}, "y": {"field": "yl", "type": "quantitative"}, "y2": {"field": "top"}}},
 {"mark": {"type": "rule", "strokeWidth": 2, "color": "#000", "strokeCap": "square"}, "encoding": {"x": {"field": "xb", "type": "quantitative"}, "y": {"field": "yr", "type": "quantitative"}, "y2": {"field": "top"}}},
 {"mark": {"type": "text", "fontSize": 14, "color": "#222", "baseline": "alphabetic", "dy": 1}, "encoding": {"x": {"field": "xm", "type": "quantitative"}, "y": {"field": "top", "type": "quantitative"}, "text": {"field": "lab"}}}
 ]}
]},
{"width": 196, "height": 130, "title": {"text": "CA1 a-p", "offset": 29}, "layer": [
{"data": {"name": "pts"}, "transform": [{"filter": "datum.r==6"}, {"fold": ["g","s"], "as": ["k","c"]}, {"filter": "isValid(datum.c)"}, {"calculate": "indexof(['S','C','M','N'],datum.c)+1", "as": "gi"}, {"calculate": "['Schizophrenia','Controls','MRDS','Non-MRDS'][datum.gi-1]", "as": "grp"}, {"joinaggregate": [{"op": "max", "field": "v", "as": "vmax"}]}, {"calculate": "floor(datum.v*24/datum.vmax)", "as": "bin"}, {"joinaggregate": [{"op": "count", "as": "n"}], "groupby": ["gi","bin"]}, {"window": [{"op": "row_number", "as": "j"}], "sort": [{"field": "v"}], "groupby": ["gi","bin"]}, {"calculate": "datum.gi+(datum.j-1-(datum.n-1)/2)*min(0.15,0.8/max(datum.n-1,1))", "as": "xp"}],
 "mark": {"type": "point", "filled": false, "size": 40, "strokeWidth": 0.9, "color": "#222", "opacity": 1},
 "encoding": {"x": {"field": "xp", "type": "quantitative", "scale": {"domain": [0.3,4.7], "nice": false}, "axis": {"labels": false, "ticks": false, "title": null}},
  "y": {"field": "v", "type": "quantitative", "scale": {"domain": [0,60], "nice": false}, "axis": {"values": [0,20,40,60], "tickCount": 12, "title": null}},
  "shape": {"field": "grp", "type": "nominal", "scale": {"domain": ["Schizophrenia","Controls","MRDS","Non-MRDS"], "range": ["circle","triangle-up","diamond","square"]}, "legend": {"title": "*p < 0.05, **p < 0.01. ***p < 0.001, ****p < 0.0001", "orient": "none", "legendX": -12, "legendY": 644, "direction": "horizontal", "titleOrient": "bottom", "titleAnchor": "start", "titlePadding": 14, "columnPadding": 36, "labelOffset": 18, "padding": 0}}}},
{"data": {"name": "pts"}, "transform": [{"filter": "datum.r==6"}, {"fold": ["g","s"], "as": ["k","c"]}, {"filter": "isValid(datum.c)"}, {"calculate": "indexof(['S','C','M','N'],datum.c)+1", "as": "gi"}, {"aggregate": [{"op": "mean", "field": "v", "as": "m"}, {"op": "stderr", "field": "v", "as": "se"}], "groupby": ["gi"]}, {"calculate": "datum.m-datum.se", "as": "lo"}, {"calculate": "datum.m+datum.se", "as": "hi"}, {"calculate": "datum.gi-0.34", "as": "xl"}, {"calculate": "datum.gi+0.34", "as": "xr"}, {"calculate": "datum.gi-0.18", "as": "cl"}, {"calculate": "datum.gi+0.18", "as": "cr"}],
 "layer": [
 {"mark": {"type": "rule", "strokeWidth": 2, "color": "#000"}, "encoding": {"x": {"field": "xl", "type": "quantitative"}, "x2": {"field": "xr"}, "y": {"field": "m", "type": "quantitative"}}},
 {"mark": {"type": "rule", "strokeWidth": 2, "color": "#000"}, "encoding": {"x": {"field": "gi", "type": "quantitative"}, "y": {"field": "lo", "type": "quantitative"}, "y2": {"field": "hi"}}},
 {"mark": {"type": "rule", "strokeWidth": 2, "color": "#000"}, "encoding": {"x": {"field": "cl", "type": "quantitative"}, "x2": {"field": "cr"}, "y": {"field": "hi", "type": "quantitative"}}},
 {"mark": {"type": "rule", "strokeWidth": 2, "color": "#000"}, "encoding": {"x": {"field": "cl", "type": "quantitative"}, "x2": {"field": "cr"}, "y": {"field": "lo", "type": "quantitative"}}}
 ]},
{"data": {"name": "br"}, "transform": [{"filter": "datum.r==6"}, {"calculate": "indexof(['S','C','M','N'],datum.a)+1", "as": "xa"}, {"calculate": "indexof(['S','C','M','N'],datum.b)+1", "as": "xb"}, {"calculate": "(datum.xa+datum.xb)/2", "as": "xm"}],
 "layer": [
 {"mark": {"type": "rule", "strokeWidth": 2, "color": "#000", "strokeCap": "square"}, "encoding": {"x": {"field": "xa", "type": "quantitative"}, "x2": {"field": "xb"}, "y": {"field": "top", "type": "quantitative"}}},
 {"mark": {"type": "rule", "strokeWidth": 2, "color": "#000", "strokeCap": "square"}, "encoding": {"x": {"field": "xa", "type": "quantitative"}, "y": {"field": "yl", "type": "quantitative"}, "y2": {"field": "top"}}},
 {"mark": {"type": "rule", "strokeWidth": 2, "color": "#000", "strokeCap": "square"}, "encoding": {"x": {"field": "xb", "type": "quantitative"}, "y": {"field": "yr", "type": "quantitative"}, "y2": {"field": "top"}}},
 {"mark": {"type": "text", "fontSize": 14, "color": "#222", "baseline": "alphabetic", "dy": 1}, "encoding": {"x": {"field": "xm", "type": "quantitative"}, "y": {"field": "top", "type": "quantitative"}, "text": {"field": "lab"}}}
 ]}
]}
], "spacing": 16}
], "spacing": 49},
{"hconcat": [
{"width": 194, "height": 130, "title": {"text": "CA1 lm / r", "offset": 34}, "layer": [
{"data": {"name": "pts"}, "transform": [{"filter": "datum.r==7"}, {"fold": ["g","s"], "as": ["k","c"]}, {"filter": "isValid(datum.c)"}, {"calculate": "indexof(['S','C','M','N'],datum.c)+1", "as": "gi"}, {"calculate": "['Schizophrenia','Controls','MRDS','Non-MRDS'][datum.gi-1]", "as": "grp"}, {"joinaggregate": [{"op": "max", "field": "v", "as": "vmax"}]}, {"calculate": "floor(datum.v*24/datum.vmax)", "as": "bin"}, {"joinaggregate": [{"op": "count", "as": "n"}], "groupby": ["gi","bin"]}, {"window": [{"op": "row_number", "as": "j"}], "sort": [{"field": "v"}], "groupby": ["gi","bin"]}, {"calculate": "datum.gi+(datum.j-1-(datum.n-1)/2)*min(0.15,0.8/max(datum.n-1,1))", "as": "xp"}],
 "mark": {"type": "point", "filled": false, "size": 40, "strokeWidth": 0.9, "color": "#222", "opacity": 1},
 "encoding": {"x": {"field": "xp", "type": "quantitative", "scale": {"domain": [0.3,4.7], "nice": false}, "axis": {"labels": false, "ticks": false, "title": null}},
  "y": {"field": "v", "type": "quantitative", "scale": {"domain": [0,50], "nice": false}, "axis": {"values": [0,10,20,30,40,50], "tickCount": 12, "title": ["Δ [³H]NMS binding","(fmol/mg ETE)"]}},
  "shape": {"field": "grp", "type": "nominal", "scale": {"domain": ["Schizophrenia","Controls","MRDS","Non-MRDS"], "range": ["circle","triangle-up","diamond","square"]}, "legend": {"title": "*p < 0.05, **p < 0.01. ***p < 0.001, ****p < 0.0001", "orient": "none", "legendX": -12, "legendY": 644, "direction": "horizontal", "titleOrient": "bottom", "titleAnchor": "start", "titlePadding": 14, "columnPadding": 36, "labelOffset": 18, "padding": 0}}}},
{"data": {"name": "pts"}, "transform": [{"filter": "datum.r==7"}, {"fold": ["g","s"], "as": ["k","c"]}, {"filter": "isValid(datum.c)"}, {"calculate": "indexof(['S','C','M','N'],datum.c)+1", "as": "gi"}, {"aggregate": [{"op": "mean", "field": "v", "as": "m"}, {"op": "stderr", "field": "v", "as": "se"}], "groupby": ["gi"]}, {"calculate": "datum.m-datum.se", "as": "lo"}, {"calculate": "datum.m+datum.se", "as": "hi"}, {"calculate": "datum.gi-0.34", "as": "xl"}, {"calculate": "datum.gi+0.34", "as": "xr"}, {"calculate": "datum.gi-0.18", "as": "cl"}, {"calculate": "datum.gi+0.18", "as": "cr"}],
 "layer": [
 {"mark": {"type": "rule", "strokeWidth": 2, "color": "#000"}, "encoding": {"x": {"field": "xl", "type": "quantitative"}, "x2": {"field": "xr"}, "y": {"field": "m", "type": "quantitative"}}},
 {"mark": {"type": "rule", "strokeWidth": 2, "color": "#000"}, "encoding": {"x": {"field": "gi", "type": "quantitative"}, "y": {"field": "lo", "type": "quantitative"}, "y2": {"field": "hi"}}},
 {"mark": {"type": "rule", "strokeWidth": 2, "color": "#000"}, "encoding": {"x": {"field": "cl", "type": "quantitative"}, "x2": {"field": "cr"}, "y": {"field": "hi", "type": "quantitative"}}},
 {"mark": {"type": "rule", "strokeWidth": 2, "color": "#000"}, "encoding": {"x": {"field": "cl", "type": "quantitative"}, "x2": {"field": "cr"}, "y": {"field": "lo", "type": "quantitative"}}}
 ]},
{"data": {"name": "br"}, "transform": [{"filter": "datum.r==7"}, {"calculate": "indexof(['S','C','M','N'],datum.a)+1", "as": "xa"}, {"calculate": "indexof(['S','C','M','N'],datum.b)+1", "as": "xb"}, {"calculate": "(datum.xa+datum.xb)/2", "as": "xm"}],
 "layer": [
 {"mark": {"type": "rule", "strokeWidth": 2, "color": "#000", "strokeCap": "square"}, "encoding": {"x": {"field": "xa", "type": "quantitative"}, "x2": {"field": "xb"}, "y": {"field": "top", "type": "quantitative"}}},
 {"mark": {"type": "rule", "strokeWidth": 2, "color": "#000", "strokeCap": "square"}, "encoding": {"x": {"field": "xa", "type": "quantitative"}, "y": {"field": "yl", "type": "quantitative"}, "y2": {"field": "top"}}},
 {"mark": {"type": "rule", "strokeWidth": 2, "color": "#000", "strokeCap": "square"}, "encoding": {"x": {"field": "xb", "type": "quantitative"}, "y": {"field": "yr", "type": "quantitative"}, "y2": {"field": "top"}}},
 {"mark": {"type": "text", "fontSize": 14, "color": "#222", "baseline": "alphabetic", "dy": 1}, "encoding": {"x": {"field": "xm", "type": "quantitative"}, "y": {"field": "top", "type": "quantitative"}, "text": {"field": "lab"}}}
 ]}
]},
{"hconcat": [
{"width": 196, "height": 130, "title": {"text": "Sub p / p", "offset": 24}, "layer": [
{"data": {"name": "pts"}, "transform": [{"filter": "datum.r==8"}, {"fold": ["g","s"], "as": ["k","c"]}, {"filter": "isValid(datum.c)"}, {"calculate": "indexof(['S','C','M','N'],datum.c)+1", "as": "gi"}, {"calculate": "['Schizophrenia','Controls','MRDS','Non-MRDS'][datum.gi-1]", "as": "grp"}, {"joinaggregate": [{"op": "max", "field": "v", "as": "vmax"}]}, {"calculate": "floor(datum.v*24/datum.vmax)", "as": "bin"}, {"joinaggregate": [{"op": "count", "as": "n"}], "groupby": ["gi","bin"]}, {"window": [{"op": "row_number", "as": "j"}], "sort": [{"field": "v"}], "groupby": ["gi","bin"]}, {"calculate": "datum.gi+(datum.j-1-(datum.n-1)/2)*min(0.15,0.8/max(datum.n-1,1))", "as": "xp"}],
 "mark": {"type": "point", "filled": false, "size": 40, "strokeWidth": 0.9, "color": "#222", "opacity": 1},
 "encoding": {"x": {"field": "xp", "type": "quantitative", "scale": {"domain": [0.3,4.7], "nice": false}, "axis": {"labels": false, "ticks": false, "title": null}},
  "y": {"field": "v", "type": "quantitative", "scale": {"domain": [0,40], "nice": false}, "axis": {"values": [0,10,20,30,40], "tickCount": 12, "title": null}},
  "shape": {"field": "grp", "type": "nominal", "scale": {"domain": ["Schizophrenia","Controls","MRDS","Non-MRDS"], "range": ["circle","triangle-up","diamond","square"]}, "legend": {"title": "*p < 0.05, **p < 0.01. ***p < 0.001, ****p < 0.0001", "orient": "none", "legendX": -12, "legendY": 644, "direction": "horizontal", "titleOrient": "bottom", "titleAnchor": "start", "titlePadding": 14, "columnPadding": 36, "labelOffset": 18, "padding": 0}}}},
{"data": {"name": "pts"}, "transform": [{"filter": "datum.r==8"}, {"fold": ["g","s"], "as": ["k","c"]}, {"filter": "isValid(datum.c)"}, {"calculate": "indexof(['S','C','M','N'],datum.c)+1", "as": "gi"}, {"aggregate": [{"op": "mean", "field": "v", "as": "m"}, {"op": "stderr", "field": "v", "as": "se"}], "groupby": ["gi"]}, {"calculate": "datum.m-datum.se", "as": "lo"}, {"calculate": "datum.m+datum.se", "as": "hi"}, {"calculate": "datum.gi-0.34", "as": "xl"}, {"calculate": "datum.gi+0.34", "as": "xr"}, {"calculate": "datum.gi-0.18", "as": "cl"}, {"calculate": "datum.gi+0.18", "as": "cr"}],
 "layer": [
 {"mark": {"type": "rule", "strokeWidth": 2, "color": "#000"}, "encoding": {"x": {"field": "xl", "type": "quantitative"}, "x2": {"field": "xr"}, "y": {"field": "m", "type": "quantitative"}}},
 {"mark": {"type": "rule", "strokeWidth": 2, "color": "#000"}, "encoding": {"x": {"field": "gi", "type": "quantitative"}, "y": {"field": "lo", "type": "quantitative"}, "y2": {"field": "hi"}}},
 {"mark": {"type": "rule", "strokeWidth": 2, "color": "#000"}, "encoding": {"x": {"field": "cl", "type": "quantitative"}, "x2": {"field": "cr"}, "y": {"field": "hi", "type": "quantitative"}}},
 {"mark": {"type": "rule", "strokeWidth": 2, "color": "#000"}, "encoding": {"x": {"field": "cl", "type": "quantitative"}, "x2": {"field": "cr"}, "y": {"field": "lo", "type": "quantitative"}}}
 ]},
{"data": {"name": "br"}, "transform": [{"filter": "datum.r==8"}, {"calculate": "indexof(['S','C','M','N'],datum.a)+1", "as": "xa"}, {"calculate": "indexof(['S','C','M','N'],datum.b)+1", "as": "xb"}, {"calculate": "(datum.xa+datum.xb)/2", "as": "xm"}],
 "layer": [
 {"mark": {"type": "rule", "strokeWidth": 2, "color": "#000", "strokeCap": "square"}, "encoding": {"x": {"field": "xa", "type": "quantitative"}, "x2": {"field": "xb"}, "y": {"field": "top", "type": "quantitative"}}},
 {"mark": {"type": "rule", "strokeWidth": 2, "color": "#000", "strokeCap": "square"}, "encoding": {"x": {"field": "xa", "type": "quantitative"}, "y": {"field": "yl", "type": "quantitative"}, "y2": {"field": "top"}}},
 {"mark": {"type": "rule", "strokeWidth": 2, "color": "#000", "strokeCap": "square"}, "encoding": {"x": {"field": "xb", "type": "quantitative"}, "y": {"field": "yr", "type": "quantitative"}, "y2": {"field": "top"}}},
 {"mark": {"type": "text", "fontSize": 14, "color": "#222", "baseline": "alphabetic", "dy": 1}, "encoding": {"x": {"field": "xm", "type": "quantitative"}, "y": {"field": "top", "type": "quantitative"}, "text": {"field": "lab"}}}
 ]}
]},
{"width": 196, "height": 130, "title": {"text": "Sub ml", "offset": 23}, "layer": [
{"data": {"name": "pts"}, "transform": [{"filter": "datum.r==9"}, {"fold": ["g","s"], "as": ["k","c"]}, {"filter": "isValid(datum.c)"}, {"calculate": "indexof(['S','C','M','N'],datum.c)+1", "as": "gi"}, {"calculate": "['Schizophrenia','Controls','MRDS','Non-MRDS'][datum.gi-1]", "as": "grp"}, {"joinaggregate": [{"op": "max", "field": "v", "as": "vmax"}]}, {"calculate": "floor(datum.v*24/datum.vmax)", "as": "bin"}, {"joinaggregate": [{"op": "count", "as": "n"}], "groupby": ["gi","bin"]}, {"window": [{"op": "row_number", "as": "j"}], "sort": [{"field": "v"}], "groupby": ["gi","bin"]}, {"calculate": "datum.gi+(datum.j-1-(datum.n-1)/2)*min(0.15,0.8/max(datum.n-1,1))", "as": "xp"}],
 "mark": {"type": "point", "filled": false, "size": 40, "strokeWidth": 0.9, "color": "#222", "opacity": 1},
 "encoding": {"x": {"field": "xp", "type": "quantitative", "scale": {"domain": [0.3,4.7], "nice": false}, "axis": {"labels": false, "ticks": false, "title": null}},
  "y": {"field": "v", "type": "quantitative", "scale": {"domain": [0,20], "nice": false}, "axis": {"values": [0,5,10,15,20], "tickCount": 12, "title": null}},
  "shape": {"field": "grp", "type": "nominal", "scale": {"domain": ["Schizophrenia","Controls","MRDS","Non-MRDS"], "range": ["circle","triangle-up","diamond","square"]}, "legend": {"title": "*p < 0.05, **p < 0.01. ***p < 0.001, ****p < 0.0001", "orient": "none", "legendX": -12, "legendY": 644, "direction": "horizontal", "titleOrient": "bottom", "titleAnchor": "start", "titlePadding": 14, "columnPadding": 36, "labelOffset": 18, "padding": 0}}}},
{"data": {"name": "pts"}, "transform": [{"filter": "datum.r==9"}, {"fold": ["g","s"], "as": ["k","c"]}, {"filter": "isValid(datum.c)"}, {"calculate": "indexof(['S','C','M','N'],datum.c)+1", "as": "gi"}, {"aggregate": [{"op": "mean", "field": "v", "as": "m"}, {"op": "stderr", "field": "v", "as": "se"}], "groupby": ["gi"]}, {"calculate": "datum.m-datum.se", "as": "lo"}, {"calculate": "datum.m+datum.se", "as": "hi"}, {"calculate": "datum.gi-0.34", "as": "xl"}, {"calculate": "datum.gi+0.34", "as": "xr"}, {"calculate": "datum.gi-0.18", "as": "cl"}, {"calculate": "datum.gi+0.18", "as": "cr"}],
 "layer": [
 {"mark": {"type": "rule", "strokeWidth": 2, "color": "#000"}, "encoding": {"x": {"field": "xl", "type": "quantitative"}, "x2": {"field": "xr"}, "y": {"field": "m", "type": "quantitative"}}},
 {"mark": {"type": "rule", "strokeWidth": 2, "color": "#000"}, "encoding": {"x": {"field": "gi", "type": "quantitative"}, "y": {"field": "lo", "type": "quantitative"}, "y2": {"field": "hi"}}},
 {"mark": {"type": "rule", "strokeWidth": 2, "color": "#000"}, "encoding": {"x": {"field": "cl", "type": "quantitative"}, "x2": {"field": "cr"}, "y": {"field": "hi", "type": "quantitative"}}},
 {"mark": {"type": "rule", "strokeWidth": 2, "color": "#000"}, "encoding": {"x": {"field": "cl", "type": "quantitative"}, "x2": {"field": "cr"}, "y": {"field": "lo", "type": "quantitative"}}}
 ]},
{"data": {"name": "br"}, "transform": [{"filter": "datum.r==9"}, {"calculate": "indexof(['S','C','M','N'],datum.a)+1", "as": "xa"}, {"calculate": "indexof(['S','C','M','N'],datum.b)+1", "as": "xb"}, {"calculate": "(datum.xa+datum.xb)/2", "as": "xm"}],
 "layer": [
 {"mark": {"type": "rule", "strokeWidth": 2, "color": "#000", "strokeCap": "square"}, "encoding": {"x": {"field": "xa", "type": "quantitative"}, "x2": {"field": "xb"}, "y": {"field": "top", "type": "quantitative"}}},
 {"mark": {"type": "rule", "strokeWidth": 2, "color": "#000", "strokeCap": "square"}, "encoding": {"x": {"field": "xa", "type": "quantitative"}, "y": {"field": "yl", "type": "quantitative"}, "y2": {"field": "top"}}},
 {"mark": {"type": "rule", "strokeWidth": 2, "color": "#000", "strokeCap": "square"}, "encoding": {"x": {"field": "xb", "type": "quantitative"}, "y": {"field": "yr", "type": "quantitative"}, "y2": {"field": "top"}}},
 {"mark": {"type": "text", "fontSize": 14, "color": "#222", "baseline": "alphabetic", "dy": 1}, "encoding": {"x": {"field": "xm", "type": "quantitative"}, "y": {"field": "top", "type": "quantitative"}, "text": {"field": "lab"}}}
 ]}
]}
], "spacing": 16}
], "spacing": 49}
]}
]
}
